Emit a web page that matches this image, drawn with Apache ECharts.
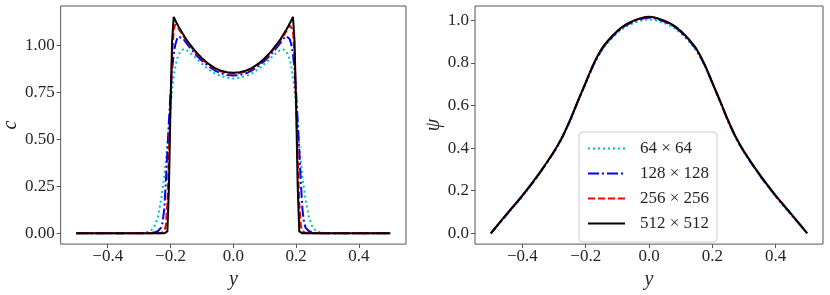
<!DOCTYPE html>
<html>
<head>
<meta charset="utf-8">
<script src="https://cdn.jsdelivr.net/npm/echarts@6/dist/echarts.min.js"></script>
<style>
    html,body{margin:0;padding:0;background:#fff;}
    #main{width:830px;height:295px;}
</style>
</head>
<body>
<div id="main"></div>
<script>
/*左图 c(y) 的数据*/
var cY = [-0.5, -0.4, -0.3, -0.28, -0.27, -0.26, -0.25, -0.24, -0.23, -0.225, -0.22, -0.215, -0.21, -0.205, -0.2, -0.195, -0.19, -0.185, -0.18, -0.175, -0.17, -0.16, -0.15, -0.14, -0.12, -0.1, -0.08, -0.06, -0.04, -0.02,
    0,
    0.02, 0.04, 0.06, 0.08, 0.1, 0.12, 0.14, 0.15, 0.16, 0.17, 0.175, 0.18, 0.185, 0.19, 0.195, 0.2, 0.205, 0.21, 0.215, 0.22, 0.225, 0.23, 0.24, 0.25, 0.26, 0.27, 0.28, 0.3, 0.4, 0.5];

var c64 = [0, 0, 0.001, 0.004, 0.008, 0.018, 0.04, 0.09, 0.18, 0.24, 0.3, 0.38, 0.47, 0.57, 0.67, 0.76, 0.83, 0.88, 0.92, 0.945, 0.962, 0.977, 0.975, 0.962, 0.932, 0.9, 0.872, 0.85, 0.835, 0.826,
    0.822,
    0.826, 0.835, 0.85, 0.872, 0.9, 0.932, 0.962, 0.975, 0.977, 0.962, 0.945, 0.92, 0.88, 0.83, 0.76, 0.67, 0.57, 0.47, 0.38, 0.3, 0.24, 0.18, 0.09, 0.04, 0.018, 0.008, 0.004, 0.001, 0, 0];

var c128 = [0, 0, 0, 0, 0.001, 0.002, 0.005, 0.012, 0.03, 0.06, 0.13, 0.27, 0.44, 0.6, 0.75, 0.87, 0.95, 1.0, 1.03, 1.045, 1.047, 1.035, 1.012, 0.99, 0.95, 0.917, 0.889, 0.866, 0.85, 0.841,
    0.838,
    0.841, 0.85, 0.866, 0.889, 0.917, 0.95, 0.99, 1.012, 1.035, 1.047, 1.045, 1.03, 1.0, 0.95, 0.87, 0.75, 0.6, 0.44, 0.27, 0.13, 0.06, 0.03, 0.012, 0.005, 0.002, 0.001, 0, 0, 0, 0];

var c256 = [0, 0, 0, 0, 0, 0, 0, 0, 0.001, 0.004, 0.012, 0.04, 0.16, 0.42, 0.7, 0.94, 1.08, 1.11, 1.104, 1.09, 1.076, 1.05, 1.025, 1.002, 0.96, 0.926, 0.897, 0.875, 0.86, 0.851,
    0.848,
    0.851, 0.86, 0.875, 0.897, 0.926, 0.96, 1.002, 1.025, 1.05, 1.076, 1.09, 1.104, 1.11, 1.08, 0.94, 0.7, 0.42, 0.16, 0.04, 0.012, 0.004, 0.001, 0, 0, 0, 0, 0, 0, 0, 0];

var c512 = [0, 0, 0, 0, 0, 0, 0, 0, 0, 0, 0, 0.001, 0.01, 0.25, 0.68, 1.02, 1.15, 1.132, 1.116, 1.1, 1.085, 1.057, 1.031, 1.007, 0.965, 0.93, 0.901, 0.879, 0.864, 0.856,
    0.853,
    0.856, 0.864, 0.879, 0.901, 0.93, 0.965, 1.007, 1.031, 1.057, 1.085, 1.1, 1.116, 1.132, 1.15, 1.02, 0.68, 0.25, 0.01, 0.001, 0, 0, 0, 0, 0, 0, 0, 0, 0, 0, 0];

/*右图 psi(y) 的数据*/
var psiY = [-0.5, -0.45, -0.4, -0.35, -0.3, -0.275, -0.25, -0.225, -0.2, -0.175, -0.15, -0.125, -0.1, -0.075, -0.05, -0.025,
    0,
    0.025, 0.05, 0.075, 0.1, 0.125, 0.15, 0.175, 0.2, 0.225, 0.25, 0.275, 0.3, 0.35, 0.4, 0.45, 0.5];

var psi64 = [0, 0.085, 0.173, 0.27, 0.38, 0.445, 0.525, 0.615, 0.703, 0.788, 0.856, 0.902, 0.94, 0.967, 0.986, 0.998,
    1.004,
    0.998, 0.986, 0.967, 0.94, 0.902, 0.856, 0.788, 0.703, 0.615, 0.525, 0.445, 0.38, 0.27, 0.173, 0.085, 0];
var psi128 = [0, 0.088, 0.176, 0.273, 0.383, 0.448, 0.528, 0.618, 0.706, 0.792, 0.861, 0.908, 0.946, 0.974, 0.993, 1.006,
    1.012,
    1.006, 0.993, 0.974, 0.946, 0.908, 0.861, 0.792, 0.706, 0.618, 0.528, 0.448, 0.383, 0.273, 0.176, 0.088, 0];
var psi256 = [0, 0.089, 0.177, 0.274, 0.384, 0.449, 0.529, 0.619, 0.707, 0.794, 0.864, 0.911, 0.949, 0.977, 0.996, 1.009,
    1.015,
    1.009, 0.996, 0.977, 0.949, 0.911, 0.864, 0.794, 0.707, 0.619, 0.529, 0.449, 0.384, 0.274, 0.177, 0.089, 0];
var psi512 = [0, 0.09, 0.178, 0.275, 0.385, 0.45, 0.53, 0.62, 0.708, 0.795, 0.865, 0.912, 0.95, 0.978, 0.997, 1.01,
    1.016,
    1.01, 0.997, 0.978, 0.95, 0.912, 0.865, 0.795, 0.708, 0.62, 0.53, 0.45, 0.385, 0.275, 0.178, 0.09, 0];

var names = ["64 × 64", "128 × 128", "256 × 256", "512 × 512"];
var xTicks = [-0.4, -0.2, 0, 0.2, 0.4];
var cTicks = [0, 0.25, 0.5, 0.75, 1.0];
var psiTicks = [0, 0.2, 0.4, 0.6, 0.8, 1.0];

var FONT = "'Liberation Serif', 'DejaVu Serif', serif";
var TXT = "#262626";
var FRAME = "#555555";

//线型：点线、点划线、虚线、实线
var lineTypes = [[2, 3], [11, 3, 2, 3], [7, 3], "solid"];
var lineColors = ["#00bfbf", "#0000ff", "#ff0000", "#000000"];

function pairs(xs, ys) {
    var arr = [];
    for (var i = 0; i < xs.length; i++) {
        arr.push([xs[i], ys[i]]);
    }
    return arr;
}

function minusFmt(digits) {
    return function (v) {
        return v.toFixed(digits).replace("-", "\u2212");
    };
}

function xAxisOf(gridIndex) {
    return {
        type: "value", gridIndex: gridIndex, min: -0.55, max: 0.55,
        name: "y", nameLocation: "middle", nameGap: 23,
        nameTextStyle: {fontFamily: FONT, fontSize: 20, fontStyle: "italic", color: TXT},
        splitLine: {show: false},
        axisLine: {show: false, onZero: false},
        axisTick: {show: true, inside: false, length: 4, customValues: xTicks, lineStyle: {color: FRAME}},
        axisLabel: {customValues: xTicks, margin: 4, fontFamily: FONT, fontSize: 17, color: TXT, formatter: minusFmt(1)}
    };
}

function yAxisOf(gridIndex, min, max, ticks, digits, label, gap) {
    return {
        type: "value", gridIndex: gridIndex, min: min, max: max,
        name: label, nameLocation: "middle", nameGap: gap,
        nameTextStyle: {fontFamily: FONT, fontSize: 20, fontStyle: "italic", color: TXT},
        splitLine: {show: false},
        axisLine: {show: false, onZero: false},
        axisTick: {show: true, inside: false, length: 4, customValues: ticks, lineStyle: {color: FRAME}},
        axisLabel: {customValues: ticks, margin: 6, fontFamily: FONT, fontSize: 17, color: TXT, formatter: minusFmt(digits)}
    };
}

function lineSeries(idx, axisIndex, xs, ys, smooth) {
    return {
        name: names[idx], type: "line",
        xAxisIndex: axisIndex, yAxisIndex: axisIndex,
        data: pairs(xs, ys),
        symbol: "none", smooth: smooth, animation: false,
        lineStyle: {color: lineColors[idx], width: 2, type: lineTypes[idx]},
        itemStyle: {color: lineColors[idx]},
        z: 2 + idx
    };
}

var myChart = echarts.init(document.getElementById("main"), null, {renderer: "canvas"});

var cData = [c64, c128, c256, c512];
var psiData = [psi64, psi128, psi256, psi512];
var series = [];
for (var i = 0; i < 4; i++) {
    series.push(lineSeries(i, 0, cY, cData[i], false));
}
for (var j = 0; j < 4; j++) {
    series.push(lineSeries(j, 1, psiY, psiData[j], 0.3));
}

var option = {
    backgroundColor: "#ffffff",
    animation: false,
    grid: [
        {left: 58, top: 6, width: 348, height: 245, show: true, borderColor: FRAME, borderWidth: 1, backgroundColor: "transparent"},
        {left: 475, top: 6, width: 348, height: 244.5, show: true, borderColor: FRAME, borderWidth: 1, backgroundColor: "transparent"}
    ],
    xAxis: [xAxisOf(0), xAxisOf(1)],
    yAxis: [
        yAxisOf(0, -0.0575, 1.2075, cTicks, 2, "c", 36),
        yAxisOf(1, -0.0508, 1.0668, psiTicks, 1, "\u03c8", 30)
    ],
    legend: {
        data: names, orient: "vertical", left: 579, top: 132,
        itemWidth: 37, itemHeight: 14, itemGap: 8,
        padding: [8, 8, 10, 8],
        backgroundColor: "rgba(255,255,255,0.8)",
        borderColor: "#cccccc", borderWidth: 1, borderRadius: 4,
        selectedMode: false,
        itemStyle: {opacity: 0},
        textStyle: {fontFamily: FONT, fontSize: 17, color: TXT, padding: [0, 0, 0, 10]}
    },
    series: series
};

myChart.setOption(option);
</script>
</body>
</html>
